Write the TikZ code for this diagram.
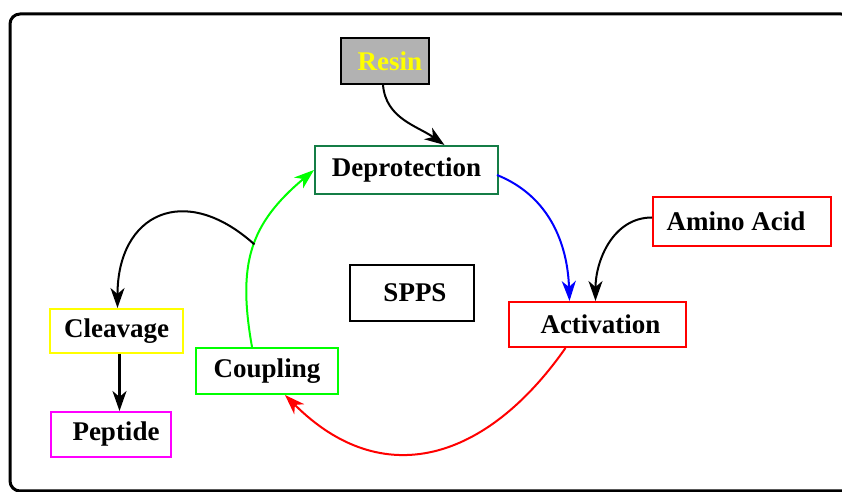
\documentclass[tikz,border=0pt]{standalone}
\usepackage{fontspec}
\setmainfont{Liberation Serif}
\usepackage{tikz}
\usetikzlibrary{
	arrows.meta, calc
}
\definecolor{sppsgray}      {RGB}{178, 178,  178}
\definecolor{sppsdkgreen}   {RGB}{ 20, 125,   70}
\definecolor{sppsgreen}     {RGB}{  0, 255,    0}
\definecolor{sppsred}       {RGB}{255,   0,    0}
\definecolor{sppsblue}      {RGB}{  0,   0,  255}
\definecolor{sppsyellow}    {RGB}{255, 255,    0}
\definecolor{sppsmagenta}   {RGB}{255,   0,  255}

\begin{document}
\begin{tikzpicture}[x=0.5pt,y=0.5pt,
		stage/.style={draw,line width=1pt,inner sep=0pt,
			font=\fontsize{13.5}{15}\selectfont\bfseries},
		arr/.style={line width=1pt,-{Stealth[length=10pt,width=7pt,inset=3pt]}}]
				\useasboundingbox (0,0) rectangle (842,492);
				\draw[line width=1.5pt,rounded corners=5pt] (10,478) rectangle (851,1);
				\node[stage,fill=sppsgray,text=sppsyellow,minimum width=44pt,minimum height=23pt] (resin) at (385,431) {\hspace{5pt}Resin};
				\node[stage,draw=sppsdkgreen,minimum width=91.5pt,minimum height=24pt] (deprot) at (406.5,322) {Deprotection};
				\node[stage,draw=sppsred,minimum width=89pt,minimum height=24.5pt] (amino) at (742,270.5) {Amino Acid\kern6pt};
				\node[stage,draw=sppsred,minimum width=88.5pt,minimum height=22.5pt] (activ) at (597.5,167.5) {\hspace{3pt}Activation};
				\node[stage,minimum width=62pt,minimum height=28pt] (spps) at (412,199) {\hspace{3pt}SPPS};
				\node[stage,draw=sppsyellow,minimum width=66.5pt,minimum height=22pt] (cleav) at (116.5,161) {Cleavage};
				\node[stage,draw=sppsgreen,minimum width=71pt,minimum height=23pt] (coupl) at (267,121) {Coupling};
				\node[stage,draw=sppsmagenta,minimum width=60pt,minimum height=22.5pt] (pept) at (111,57.5) {\hspace{5pt}Peptide};
				\draw[arr] ($(resin.south)+(-2,0)$) to[out=-85,in=145] ($(deprot.north)+(38,0)$);
				\draw[arr,sppsblue] ($(deprot.east)+(-2,-5)$) to[out=-22,in=92] ($(activ.north)+(-28,0)$);
				\draw[arr] ($(amino.west)+(0,4)$) to[out=180,in=90] ($(activ.north)+(-2,0)$);
				\draw[arr,sppsred] ($(activ.south)+(-32,0)$) to[out=-125,in=-45,looseness=1.24] ($(coupl.south)+(18,0)$);
				\draw[arr,sppsgreen] ($(coupl.north)+(-15,0)$) to[out=100,in=-140,looseness=1.15] coordinate[pos=0.52] (branch) (deprot.west);
				\draw[arr] (branch) to[out=138,in=90,looseness=1.6] ($(cleav.north)+(1,0)$);
				\draw[arr,line width=1.3pt] ($(cleav.south)+(3,0)$) -- ($(cleav.south |- pept.north)+(3,0)$);
			\end{tikzpicture}
\end{document}
